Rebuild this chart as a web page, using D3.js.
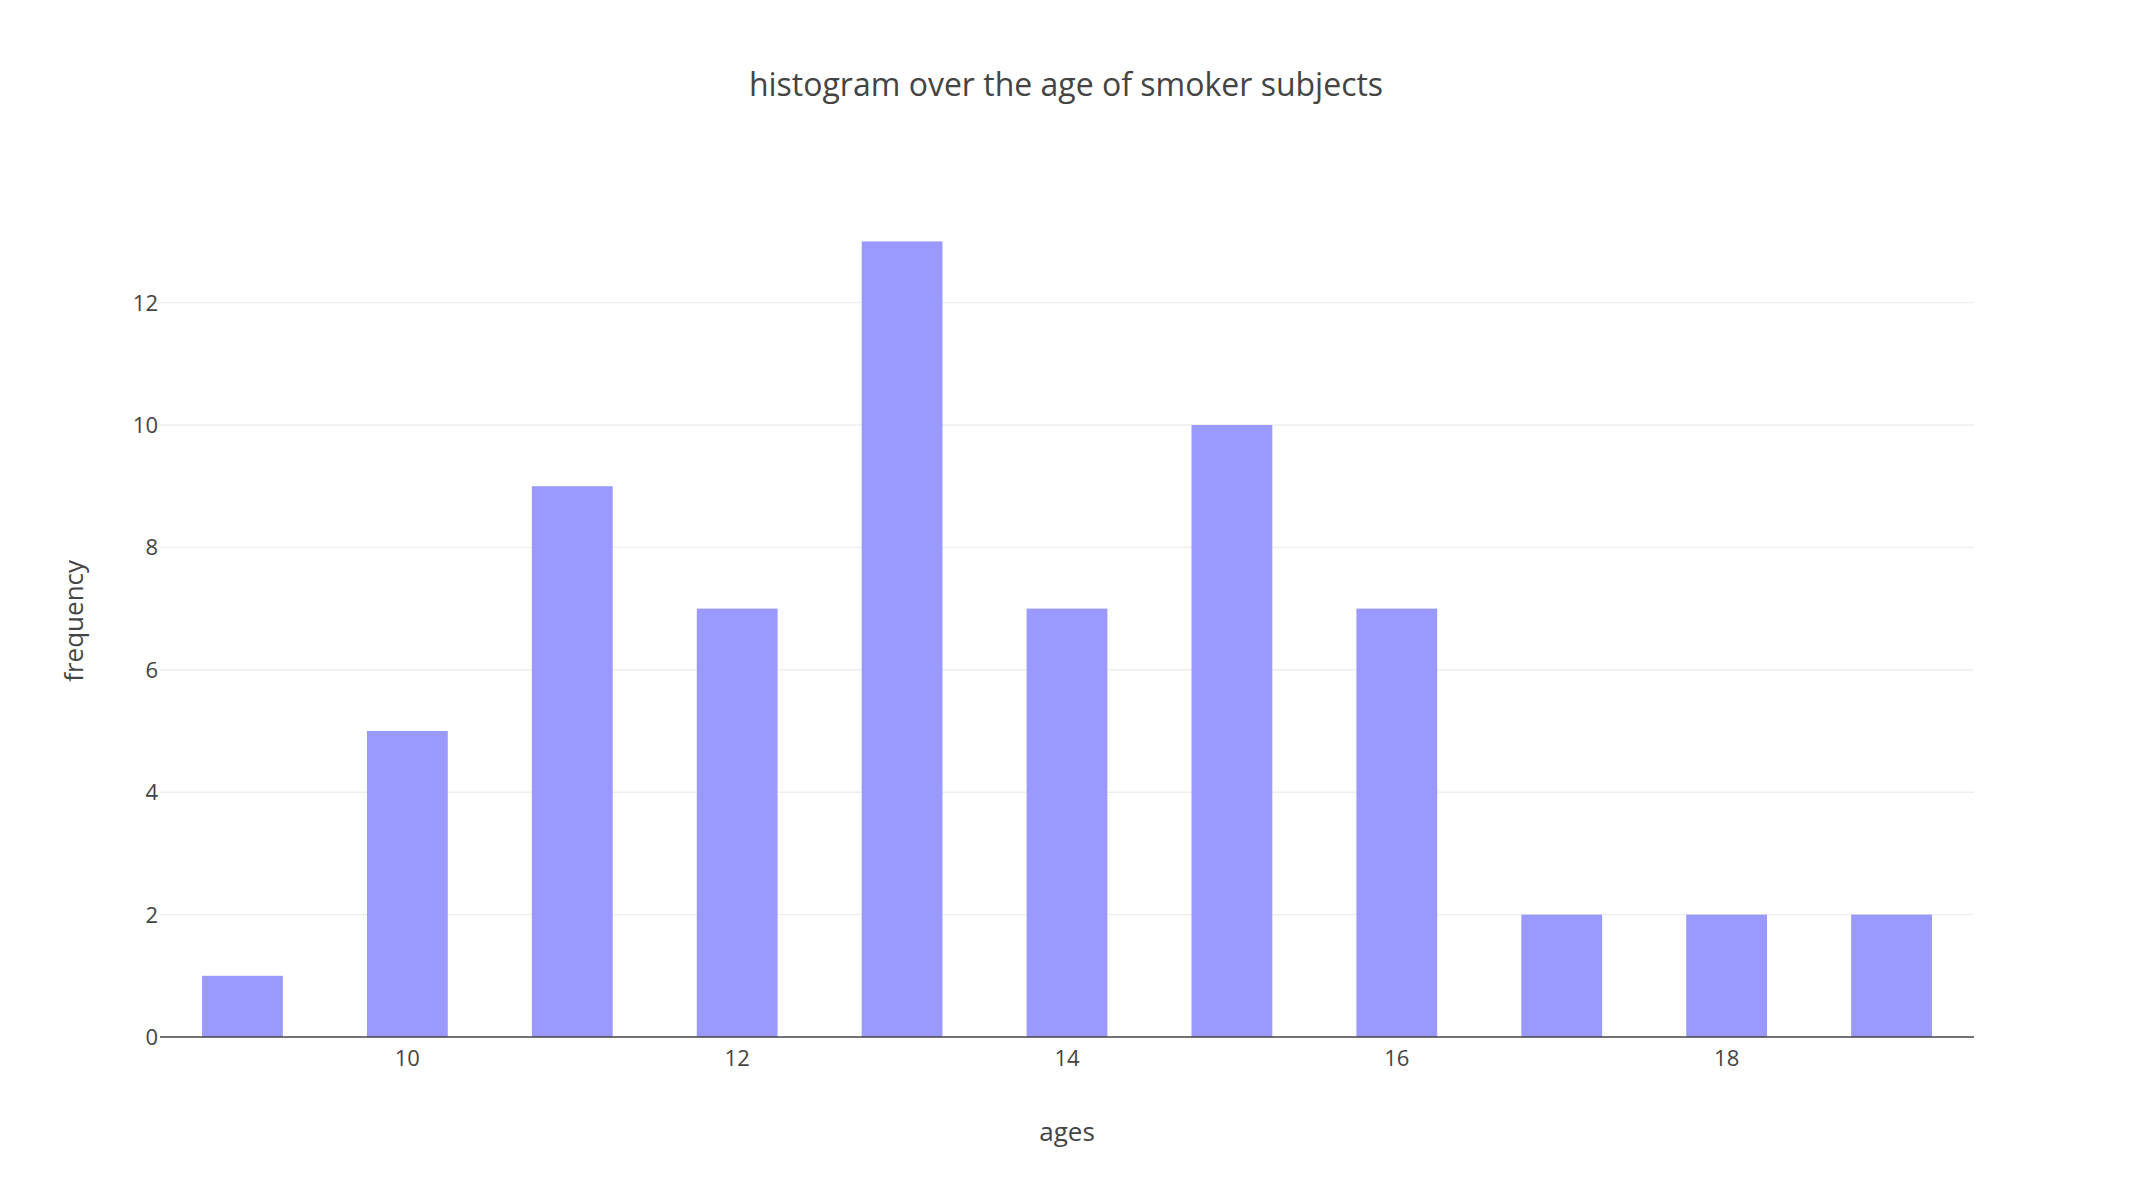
<!DOCTYPE html>
<html>
<head>
<meta charset="utf-8">
<script src="https://cdn.jsdelivr.net/npm/d3@7"></script>
<style>
  body { margin: 0; background: #fff; }
  text { font-family: "Open Sans", sans-serif; fill: #444; }
</style>
</head>
<body>
<svg id="chart"></svg>
<script>
const ages = [9, 10, 11, 12, 13, 14, 15, 16, 17, 18, 19];
const frequency = [1, 5, 9, 7, 13, 7, 10, 7, 2, 2, 2];
const xTicks = [10, 12, 14, 16, 18];
const yTicks = [0, 2, 4, 6, 8, 10, 12];

const width = 2132, height = 1198;
const margin = { top: 200, right: 158, bottom: 161, left: 160 };

const svg = d3.select("#chart")
    .attr("width", width)
    .attr("height", height);

const x = d3.scaleLinear()
    .domain([8.5, 19.5])
    .range([margin.left, width - margin.right]);

const y = d3.scaleLinear()
    .domain([0, 13.6])
    .range([height - margin.bottom, height - margin.bottom - 13.6 * 61.2]);

// gridlines
svg.append("g")
    .selectAll("line")
    .data(yTicks.filter(d => d > 0))
    .join("line")
        .attr("x1", margin.left)
        .attr("x2", width - margin.right)
        .attr("y1", d => y(d))
        .attr("y2", d => y(d))
        .attr("stroke", "#eee")
        .attr("stroke-width", 1.4);

const barW = (x(1) - x(0)) * 0.49;

svg.append("g")
    .selectAll("rect")
    .data(ages.map((a, i) => ({ a, f: frequency[i] })))
    .join("rect")
        .attr("x", d => x(d.a) - barW / 2)
        .attr("width", barW)
        .attr("y", d => y(d.f))
        .attr("height", d => y(0) - y(d.f))
        .attr("fill", "#9999ff");

// x axis line
svg.append("line")
    .attr("x1", margin.left)
    .attr("x2", width - margin.right)
    .attr("y1", y(0))
    .attr("y2", y(0))
    .attr("stroke", "#444")
    .attr("stroke-width", 1.4);

svg.append("g")
    .selectAll("text")
    .data(xTicks)
    .join("text")
        .attr("x", d => x(d))
        .attr("y", y(0) + 29)
        .attr("text-anchor", "middle")
        .attr("font-size", 22)
        .text(d => d);

svg.append("g")
    .selectAll("text")
    .data(yTicks)
    .join("text")
        .attr("x", margin.left - 2)
        .attr("y", d => y(d) + 8)
        .attr("text-anchor", "end")
        .attr("font-size", 22)
        .text(d => d);

svg.append("text")
    .attr("x", width / 2)
    .attr("y", 96)
    .attr("text-anchor", "middle")
    .attr("font-size", 32)
    .text("histogram over the age of smoker subjects");

svg.append("text")
    .attr("x", (margin.left + width - margin.right) / 2)
    .attr("y", 1141)
    .attr("text-anchor", "middle")
    .attr("font-size", 26)
    .text("ages");

svg.append("text")
    .attr("transform", `translate(83, ${y(6.8)}) rotate(-90)`)
    .attr("text-anchor", "middle")
    .attr("font-size", 26)
    .text("frequency");
</script>
</body>
</html>
